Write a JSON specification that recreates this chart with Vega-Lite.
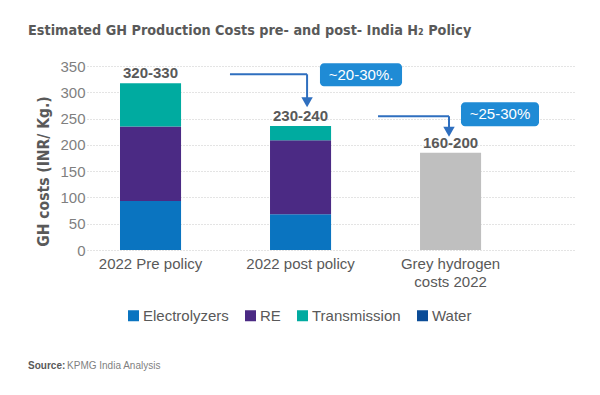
{
  "$schema": "https://vega.github.io/schema/vega-lite/v6.json",
  "width": 488,
  "height": 184,
  "padding": {"left": 28, "top": 23, "right": 10, "bottom": 10},
  "config": {"view": {"stroke": null}, "font": "Liberation Sans"},
  "title": {
    "text": "Estimated GH Production Costs pre- and post- India H₂ Policy",
    "anchor": "start",
    "frame": "bounds",
    "font": "DejaVu Sans Condensed, Liberation Sans",
    "fontSize": 14.3,
    "fontWeight": "bold",
    "color": "#595959",
    "offset": 21
  },
  "datasets": {
    "bars": [
      {"category": "2022 Pre policy", "segment": "Electrolyzers", "value": 93},
      {"category": "2022 Pre policy", "segment": "RE", "value": 142},
      {"category": "2022 Pre policy", "segment": "Transmission", "value": 82},
      {"category": "2022 post policy", "segment": "Electrolyzers", "value": 68},
      {"category": "2022 post policy", "segment": "RE", "value": 141},
      {"category": "2022 post policy", "segment": "Transmission", "value": 27},
      {"category": "Grey hydrogen costs 2022", "segment": "Grey", "value": 185}
    ],
    "labels": [
      {"category": "2022 Pre policy", "total": 317, "label": "320-330"},
      {"category": "2022 post policy", "total": 236, "label": "230-240"},
      {"category": "Grey hydrogen costs 2022", "total": 185, "label": "160-200"}
    ],
    "lines": [
      {"ax": 1.533, "ay": 334.2, "ax2": 2.047, "ay2": 334.2},
      {"ax": 2.047, "ay": 334.2, "ax2": 2.047, "ay2": 286},
      {"ax": 2.52, "ay": 254.5, "ax2": 2.993, "ay2": 254.5},
      {"ax": 2.993, "ay": 254.5, "ax2": 2.993, "ay2": 230}
    ],
    "heads": [
      {"ax": 2.047, "ay": 281},
      {"ax": 2.993, "ay": 225}
    ],
    "boxes": [
      {"ax": 2.133, "ax2": 2.68, "ay": 355, "ay2": 311.4, "label": "~20-30%.", "tx": 2.407, "ty": 333},
      {"ax": 3.073, "ax2": 3.593, "ay": 281, "ay2": 235.5, "label": "~25-30%", "tx": 3.333, "ty": 258}
    ],
    "source1": [{"ax": 0.187, "ay": -220, "label": "Source:"}],
    "source2": [{"ax": 0.447, "ay": -220, "label": "KPMG India Analysis"}]
  },
  "layer": [
    {
      "encoding": {
        "x": {
          "field": "category",
          "type": "nominal",
          "sort": null,
          "scale": {
            "domain": ["2022 Pre policy", "2022 post policy", "Grey hydrogen costs 2022"],
            "paddingInner": 0.593,
            "paddingOuter": 0.423,
            "align": 0.26
          },
          "axis": {
            "title": null,
            "labelAngle": 0,
            "labelFontSize": 15,
            "labelColor": "#595959",
            "labelPadding": 6,
            "labelLineHeight": 18,
            "domain": false,
            "ticks": false,
            "labelExpr": "datum.label == 'Grey hydrogen costs 2022' ? ['Grey hydrogen', 'costs 2022'] : datum.label"
          }
        }
      },
      "layer": [
        {
          "data": {"name": "bars"},
          "mark": {"type": "bar"},
          "encoding": {
            "y": {
              "field": "value",
              "type": "quantitative",
              "stack": "zero",
              "scale": {"domain": [0, 350], "nice": false},
              "axis": {
                "title": "GH costs (INR/ Kg.)",
                "titleFont": "DejaVu Sans Condensed, Liberation Sans",
                "titleFontSize": 15.5,
                "titleFontWeight": "bold",
                "titleColor": "#595959",
                "titlePadding": 8,
                "titleY": 105,
                "labelFontSize": 15,
                "labelColor": "#7f7f7f",
                "labelPadding": 2,
                "labelOverlap": false,
                "values": [0, 50, 100, 150, 200, 250, 300, 350],
                "domain": false,
                "ticks": false,
                "gridColor": "#c8c8c8",
                "gridDash": [1, 2]
              }
            },
            "color": {
              "field": "segment",
              "type": "nominal",
              "scale": {
                "domain": ["Electrolyzers", "RE", "Transmission", "Water", "Grey"],
                "range": ["#0a74c0", "#4b2a84", "#00aba0", "#0b4c97", "#bfbfbf"]
              },
              "legend": {
                "values": ["Electrolyzers", "RE", "Transmission", "Water"],
                "orient": "none",
                "direction": "horizontal",
                "legendX": 39,
                "legendY": 242,
                "title": null,
                "symbolType": "square",
                "symbolSize": 121,
                "symbolStrokeWidth": 0,
                "labelFontSize": 15,
                "labelColor": "#595959",
                "labelOffset": 2,
                "columnPadding": 14
              }
            },
            "order": {"field": "segment", "type": "nominal", "sort": "ascending"}
          }
        },
        {
          "data": {"name": "labels"},
          "mark": {"type": "text", "fontWeight": "bold", "fontSize": 15, "color": "#595959", "dy": -5, "baseline": "alphabetic"},
          "encoding": {
            "y": {
              "field": "total",
              "type": "quantitative",
              "scale": {"domain": [0, 350], "nice": false},
              "axis": {
                "title": "GH costs (INR/ Kg.)",
                "titleFont": "DejaVu Sans Condensed, Liberation Sans",
                "titleFontSize": 15.5,
                "titleFontWeight": "bold",
                "titleColor": "#595959",
                "titlePadding": 8,
                "titleY": 105,
                "labelFontSize": 15,
                "labelColor": "#7f7f7f",
                "labelPadding": 2,
                "labelOverlap": false,
                "values": [0, 50, 100, 150, 200, 250, 300, 350],
                "domain": false,
                "ticks": false,
                "gridColor": "#c8c8c8",
                "gridDash": [1, 2]
              }
            },
            "text": {"field": "label"}
          }
        }
      ]
    },
    {
      "encoding": {
        "x": {"field": "ax", "type": "quantitative", "scale": {"domain": [0.58, 3.833], "nice": false, "zero": false}, "axis": null}
      },
      "layer": [
        {
          "data": {"name": "lines"},
          "mark": {"type": "rule", "color": "#2f6fbf", "strokeWidth": 2},
          "encoding": {
            "x2": {"field": "ax2"},
            "y": {"field": "ay", "type": "quantitative", "scale": {"domain": [0, 350], "nice": false}, "axis": null},
            "y2": {"field": "ay2"}
          }
        },
        {
          "data": {"name": "heads"},
          "mark": {"type": "point", "shape": "triangle-down", "filled": true, "color": "#2f6fbf", "size": 130, "opacity": 1},
          "encoding": {
            "y": {"field": "ay", "type": "quantitative", "scale": {"domain": [0, 350], "nice": false}, "axis": null}
          }
        },
        {
          "data": {"name": "boxes"},
          "mark": {"type": "rect", "color": "#1f8bd5", "cornerRadius": 4},
          "encoding": {
            "x2": {"field": "ax2"},
            "y": {"field": "ay", "type": "quantitative", "scale": {"domain": [0, 350], "nice": false}, "axis": null},
            "y2": {"field": "ay2"}
          }
        },
        {
          "data": {"name": "boxes"},
          "mark": {"type": "text", "color": "white", "fontSize": 15, "align": "center", "baseline": "middle"},
          "encoding": {
            "x": {"field": "tx", "type": "quantitative", "scale": {"domain": [0.58, 3.833], "nice": false, "zero": false}, "axis": null},
            "y": {"field": "ty", "type": "quantitative", "scale": {"domain": [0, 350], "nice": false}, "axis": null},
            "text": {"field": "label"}
          }
        },
        {
          "data": {"name": "source1"},
          "mark": {"type": "text", "color": "#595959", "fontSize": 10, "fontWeight": "bold", "align": "left", "baseline": "middle"},
          "encoding": {
            "y": {"field": "ay", "type": "quantitative", "scale": {"domain": [0, 350], "nice": false}, "axis": null},
            "text": {"field": "label"}
          }
        },
        {
          "data": {"name": "source2"},
          "mark": {"type": "text", "color": "#7f7f7f", "fontSize": 10, "align": "left", "baseline": "middle"},
          "encoding": {
            "y": {"field": "ay", "type": "quantitative", "scale": {"domain": [0, 350], "nice": false}, "axis": null},
            "text": {"field": "label"}
          }
        }
      ]
    }
  ],
  "resolve": {"scale": {"x": "independent"}, "axis": {"y": "independent"}}
}
